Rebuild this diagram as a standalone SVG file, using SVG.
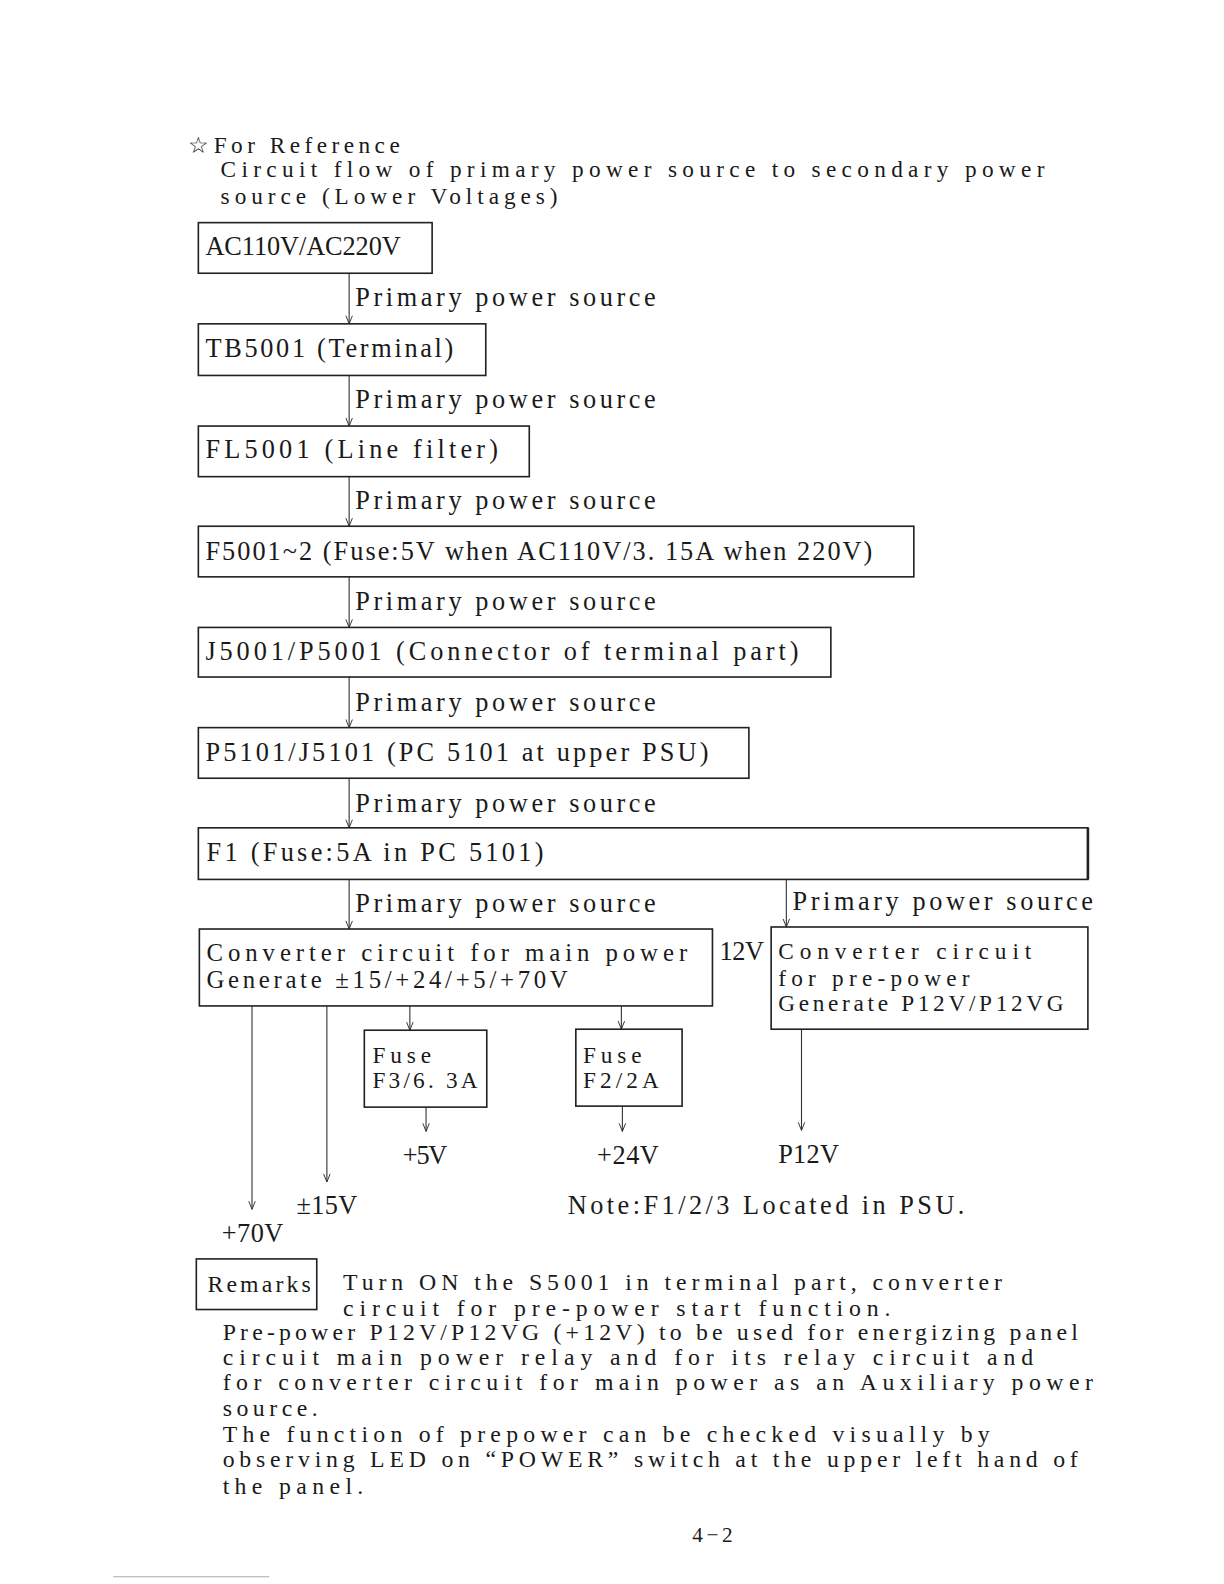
<svg xmlns="http://www.w3.org/2000/svg" width="1224" height="1584" viewBox="0 0 1224 1584">
<style>
text{font-family:"Liberation Serif","DejaVu Serif",serif;font-size:26px;fill:#1a1a1a}
.box{fill:none;stroke:#222;stroke-width:1.6}
.wire{fill:none;stroke:#333;stroke-width:1.1}
.para{font-size:23.5px}
.hdr{font-size:23px}
.tight{font-size:23px}
.mid{font-size:24.5px}
</style>
<defs>
<marker id="ah" viewBox="0 0 10 10" refX="10" refY="5" markerWidth="10" markerHeight="8" markerUnits="userSpaceOnUse" orient="auto">
<path d="M0,1 L10,5 L0,9" fill="none" stroke="#333" stroke-width="1.2"/>
</marker>
</defs>
<rect width="1224" height="1584" fill="#fff"/>
<g id="page" transform="scale(1.012)">

<g id="header">
<text class="hdr" x="186" y="151" textLength="209" lengthAdjust="spacing">☆For Reference</text>
<text class="hdr" x="218" y="175" textLength="814" lengthAdjust="spacing">Circuit flow of primary power source to secondary power</text>
<text class="hdr" x="218" y="202" textLength="333" lengthAdjust="spacing">source (Lower Voltages)</text>
</g>

<g id="connectors">
<line class="wire" x1="345" y1="270" x2="345" y2="320" marker-end="url(#ah)"/>
<line class="wire" x1="345" y1="371" x2="345" y2="421" marker-end="url(#ah)"/>
<line class="wire" x1="345" y1="471" x2="345" y2="520" marker-end="url(#ah)"/>
<line class="wire" x1="345" y1="570" x2="345" y2="620" marker-end="url(#ah)"/>
<line class="wire" x1="345" y1="669" x2="345" y2="719" marker-end="url(#ah)"/>
<line class="wire" x1="345" y1="769" x2="345" y2="818" marker-end="url(#ah)"/>
<line class="wire" x1="345" y1="869" x2="345" y2="918" marker-end="url(#ah)"/>
<line class="wire" x1="777" y1="869" x2="777" y2="916" marker-end="url(#ah)"/>
<line class="wire" x1="249" y1="994" x2="249" y2="1195" marker-end="url(#ah)"/>
<line class="wire" x1="323" y1="994" x2="323" y2="1168" marker-end="url(#ah)"/>
<line class="wire" x1="405" y1="994" x2="405" y2="1018" marker-end="url(#ah)"/>
<line class="wire" x1="614" y1="994" x2="614" y2="1017" marker-end="url(#ah)"/>
<line class="wire" x1="421" y1="1094" x2="421" y2="1118" marker-end="url(#ah)"/>
<line class="wire" x1="615" y1="1093" x2="615" y2="1118" marker-end="url(#ah)"/>
<line class="wire" x1="792" y1="1017" x2="792" y2="1117" marker-end="url(#ah)"/>
<text x="351" y="302" textLength="297" lengthAdjust="spacing">Primary power source</text>
<text x="351" y="403" textLength="297" lengthAdjust="spacing">Primary power source</text>
<text x="351" y="503" textLength="297" lengthAdjust="spacing">Primary power source</text>
<text x="351" y="603" textLength="297" lengthAdjust="spacing">Primary power source</text>
<text x="351" y="703" textLength="297" lengthAdjust="spacing">Primary power source</text>
<text x="351" y="802" textLength="297" lengthAdjust="spacing">Primary power source</text>
<text x="351" y="901" textLength="297" lengthAdjust="spacing">Primary power source</text>
<text x="783" y="899" textLength="297" lengthAdjust="spacing">Primary power source</text>
<text x="711" y="949" textLength="44" lengthAdjust="spacing">12V</text>
</g>

<g id="n-ac">
<rect class="box" x="196" y="220" width="231" height="50"/>
<text x="203" y="252" textLength="193" lengthAdjust="spacing">AC110V/AC220V</text>
</g>
<g id="n-tb5001">
<rect class="box" x="196" y="320" width="284" height="51"/>
<text x="203" y="353" textLength="245" lengthAdjust="spacing">TB5001 (Terminal)</text>
</g>
<g id="n-fl5001">
<rect class="box" x="196" y="421" width="327" height="50"/>
<text x="203" y="453" textLength="289" lengthAdjust="spacing">FL5001 (Line filter)</text>
</g>
<g id="n-f5001">
<rect class="box" x="196" y="520" width="707" height="50"/>
<text x="203" y="553" textLength="659" lengthAdjust="spacing">F5001~2 (Fuse:5V when AC110V/3. 15A when 220V)</text>
</g>
<g id="n-j5001">
<rect class="box" x="196" y="620" width="625" height="49"/>
<text x="203" y="652" textLength="586" lengthAdjust="spacing">J5001/P5001 (Connector of terminal part)</text>
</g>
<g id="n-p5101">
<rect class="box" x="196" y="719" width="544" height="50"/>
<text x="203" y="752" textLength="497" lengthAdjust="spacing">P5101/J5101 (PC 5101 at upper PSU)</text>
</g>
<g id="n-f1">
<rect class="box" x="196" y="818" width="879" height="51"/>
<line x1="1075" y1="818" x2="1075" y2="869" stroke="#222" stroke-width="2.6"/>
<text x="204" y="851" textLength="333" lengthAdjust="spacing">F1 (Fuse:5A in PC 5101)</text>
</g>
<g id="n-main-conv">
<rect class="box" x="197" y="918" width="507" height="76"/>
<text class="mid" x="204" y="950" textLength="475" lengthAdjust="spacing">Converter circuit for main power</text>
<text class="mid" x="204" y="976" textLength="357" lengthAdjust="spacing">Generate ±15/+24/+5/+70V</text>
</g>
<g id="n-pre-conv">
<rect class="box" x="762" y="916" width="313" height="101"/>
<text class="tight" x="769" y="948" textLength="250" lengthAdjust="spacing">Converter circuit</text>
<text class="tight" x="769" y="974" textLength="189" lengthAdjust="spacing">for pre-power</text>
<text class="tight" x="769" y="999" textLength="282" lengthAdjust="spacing">Generate P12V/P12VG</text>
</g>
<g id="n-fuse-f3">
<rect class="box" x="360" y="1018" width="121" height="76"/>
<text class="tight" x="368" y="1050" textLength="58" lengthAdjust="spacing">Fuse</text>
<text class="tight" x="368" y="1075" textLength="104" lengthAdjust="spacing">F3/6. 3A</text>
</g>
<g id="n-fuse-f2">
<rect class="box" x="569" y="1017" width="105" height="76"/>
<text class="tight" x="576" y="1050" textLength="58" lengthAdjust="spacing">Fuse</text>
<text class="tight" x="576" y="1075" textLength="75" lengthAdjust="spacing">F2/2A</text>
</g>

<g id="outputs">
<text x="398" y="1150" textLength="44" lengthAdjust="spacing">+5V</text>
<text x="590" y="1150" textLength="61" lengthAdjust="spacing">+24V</text>
<text x="769" y="1149" textLength="60" lengthAdjust="spacing">P12V</text>
<text x="293" y="1200" textLength="60" lengthAdjust="spacing">±15V</text>
<text x="219" y="1227" textLength="61" lengthAdjust="spacing">+70V</text>
<text x="561" y="1200" textLength="392" lengthAdjust="spacing">Note:F1/2/3 Located in PSU.</text>
</g>

<g id="remarks">
<rect class="box" x="194" y="1244" width="119" height="50" stroke-width="1.2"/>
<text class="para" x="205" y="1277" textLength="102" lengthAdjust="spacing">Remarks</text>
<text class="para" x="339" y="1275" textLength="651" lengthAdjust="spacing">Turn ON the S5001 in terminal part, converter</text>
<text class="para" x="339" y="1300" textLength="541" lengthAdjust="spacing">circuit for pre-power start function.</text>
<text class="para" x="220" y="1324" textLength="845" lengthAdjust="spacing">Pre-power P12V/P12VG (+12V) to be used for energizing panel</text>
<text class="para" x="220" y="1349" textLength="801" lengthAdjust="spacing">circuit main power relay and for its relay circuit and</text>
<text class="para" x="220" y="1374" textLength="860" lengthAdjust="spacing">for converter circuit for main power as an Auxiliary power</text>
<text class="para" x="220" y="1399" textLength="94" lengthAdjust="spacing">source.</text>
<text class="para" x="220" y="1425" textLength="758" lengthAdjust="spacing">The function of prepower can be checked visually by</text>
<text class="para" x="220" y="1450" textLength="845" lengthAdjust="spacing">observing LED on “POWER” switch at the upper left hand of</text>
<text class="para" x="220" y="1476" textLength="139" lengthAdjust="spacing">the panel.</text>
</g>

<g id="footer">
<text x="684" y="1524" textLength="40" lengthAdjust="spacing" style="font-size:21px">4−2</text>
<line x1="112" y1="1558" x2="266" y2="1558" stroke="#aaa" stroke-width="1"/>
</g>
</g>
</svg>
